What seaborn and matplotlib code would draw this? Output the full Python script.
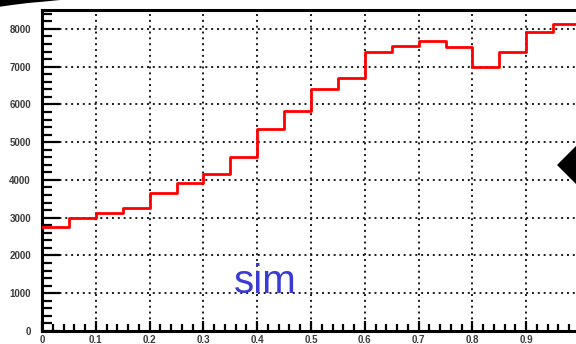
import numpy as np
import pandas as pd
import matplotlib
matplotlib.use("Agg")
import matplotlib.pyplot as plt
from matplotlib.patches import Polygon
from matplotlib.ticker import MultipleLocator, FixedLocator
import seaborn as sns

# Histogram contents: 20 equal bins on [0, 1]
bin_width = 0.05
bin_range = (0.0, 1.0)
counts = [2750, 2980, 3120, 3250, 3650, 3920, 4170, 4610, 5360, 5820,
          6420, 6710, 7390, 7550, 7690, 7530, 7000, 7380, 7910, 8140]
x_tick_values = [0.0, 0.1, 0.2, 0.3, 0.4, 0.5, 0.6, 0.7, 0.8, 0.9, 1.0]
x_tick_labels = ["0", "0.1", "0.2", "0.3", "0.4", "0.5", "0.6", "0.7", "0.8", "0.9", ""]
y_tick_values = [0, 1000, 2000, 3000, 4000, 5000, 6000, 7000, 8000]
y_tick_labels = ["0", "1000", "2000", "3000", "4000", "5000", "6000", "7000", "8000"]
label_text = "sim"

sns.set_style("white")
plt.rcParams["font.family"] = ["Liberation Sans", "DejaVu Sans"]

W, H = 576, 344
fig = plt.figure(figsize=(W / 100, H / 100), dpi=100)
fig.patch.set_facecolor("white")

def px(x, y):
    return (x / W, (H - y) / H)

# Frame: left edge at 42 px, x=1 lands just past the right border
ax = fig.add_axes([42 / W, (H - 331) / H, 538 / W, 321 / H])
ax.set_facecolor("white")

centers = [bin_range[0] + (i + 0.5) * bin_width for i in range(len(counts))]
df = pd.DataFrame({"x": centers, "w": counts})
sns.histplot(data=df, x="x", weights="w", binwidth=bin_width,
             binrange=bin_range, element="step", fill=False,
             color="#ff0000", linewidth=2.0, ax=ax, zorder=3)

ax.set_xlim(0, 1)
ax.set_ylim(0, 8500)
ax.set_xlabel("")
ax.set_ylabel("")

ax.xaxis.set_major_locator(FixedLocator(x_tick_values))
ax.set_xticklabels(x_tick_labels)
ax.yaxis.set_major_locator(FixedLocator(y_tick_values))
ax.set_yticklabels(y_tick_labels)
ax.xaxis.set_minor_locator(MultipleLocator(0.02))
ax.yaxis.set_minor_locator(MultipleLocator(200))

ax.grid(True, which="major", color="#1a1a1a", linewidth=1.4,
        linestyle=(0, (1, 2)), zorder=1)

for s in ax.spines.values():
    s.set_linewidth(2.2)
    s.set_color("black")
    s.set_visible(True)

ax.tick_params(axis="y", which="major", direction="in", length=13, width=1.6,
               color="black", pad=8, labelsize=7, labelcolor="#3a3a3a",
               left=True)
ax.tick_params(axis="y", which="minor", direction="in", length=7, width=1.6,
               color="black", left=True)
ax.tick_params(axis="x", which="major", direction="in", length=7.5, width=1.6,
               color="black", pad=3, labelsize=7, labelcolor="#3a3a3a",
               bottom=True)
ax.tick_params(axis="x", which="minor", direction="in", length=5, width=1.6,
               color="black", bottom=True)
for t in ax.get_xticklabels() + ax.get_yticklabels():
    t.set_fontweight("bold")

fig.text(*px(265, 293), label_text, color="#3a3ad4", fontsize=29,
         ha="center", va="baseline")

# Pointer arrow on the right border
arrow = Polygon([px(557, 165), px(580, 142), px(580, 188)], closed=True,
                facecolor="black", edgecolor="none", transform=fig.transFigure)
fig.add_artist(arrow)

# Dark corner stroke at top left
corner = Polygon([px(-2, -2), px(64, -2), px(60, 0), px(45, 1.5), px(28, 3),
                  px(12, 5), px(-2, 7)], closed=True, facecolor="black",
                 edgecolor="none", transform=fig.transFigure)
fig.add_artist(corner)

fig.savefig("out.png", dpi=100)
